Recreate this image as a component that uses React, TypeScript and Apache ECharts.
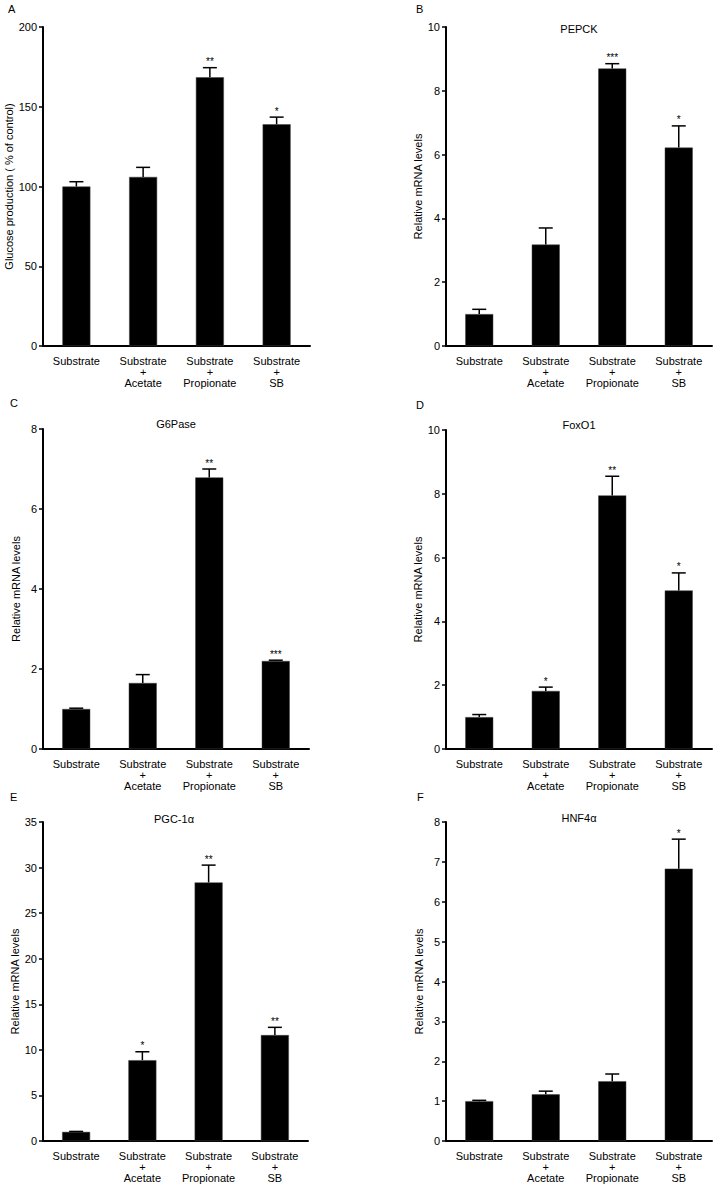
import React, { useEffect, useRef } from "react";
import * as echarts from "echarts";

const categories = ["Substrate", "Substrate\n+\nAcetate", "Substrate\n+\nPropionate", "Substrate\n+\nSB"];

const glucoseMean = [100, 106, 168.5, 139];
const glucoseErr = [3, 6, 6, 4.5];
const glucoseStars = ["", "", "**", "*"];

const pepckMean = [1.0, 3.18, 8.7, 6.22];
const pepckErr = [0.15, 0.52, 0.15, 0.68];
const pepckStars = ["", "", "***", "*"];

const g6paseMean = [1.0, 1.65, 6.79, 2.2];
const g6paseErr = [0.02, 0.21, 0.21, 0.02];
const g6paseStars = ["", "", "**", "***"];

const foxo1Mean = [1.0, 1.82, 7.95, 4.97];
const foxo1Err = [0.08, 0.12, 0.6, 0.55];
const foxo1Stars = ["", "*", "**", "*"];

const pgcMean = [1.0, 8.87, 28.37, 11.62];
const pgcErr = [0.05, 0.92, 1.9, 0.85];
const pgcStars = ["", "*", "**", "**"];

const hnfMean = [1.0, 1.17, 1.5, 6.83];
const hnfErr = [0.02, 0.08, 0.18, 0.74];
const hnfStars = ["", "", "", "*"];

const FONT = "'Liberation Sans', Arial, sans-serif";

type Panel = {
  letter: string;
  title: string;
  yName: string;
  max: number;
  interval: number;
  mean: number[];
  err: number[];
  stars: string[];
  grid: { left: number; top: number; width: number; height: number };
  nameGap: number;
  letterPos: [number, number];
  titlePos: [number, number];
};

const panels: Panel[] = [
  { letter: "A", title: "", yName: "Glucose production ( % of control)", max: 200, interval: 50, mean: glucoseMean, err: glucoseErr, stars: glucoseStars, grid: { left: 43, top: 27, width: 267, height: 319 }, nameGap: 27, letterPos: [12, 9], titlePos: [0, 0] },
  { letter: "B", title: "PEPCK", yName: "Relative mRNA levels", max: 10, interval: 2, mean: pepckMean, err: pepckErr, stars: pepckStars, grid: { left: 446, top: 27, width: 266, height: 319 }, nameGap: 22, letterPos: [420, 9], titlePos: [579, 29] },
  { letter: "C", title: "G6Pase", yName: "Relative mRNA levels", max: 8, interval: 2, mean: g6paseMean, err: g6paseErr, stars: g6paseStars, grid: { left: 43, top: 429, width: 266, height: 320 }, nameGap: 22, letterPos: [14, 403], titlePos: [176, 424] },
  { letter: "D", title: "FoxO1", yName: "Relative mRNA levels", max: 10, interval: 2, mean: foxo1Mean, err: foxo1Err, stars: foxo1Stars, grid: { left: 446, top: 430, width: 266, height: 319 }, nameGap: 22, letterPos: [420, 405], titlePos: [579, 425] },
  { letter: "E", title: "PGC-1α", yName: "Relative mRNA levels", max: 35, interval: 5, mean: pgcMean, err: pgcErr, stars: pgcStars, grid: { left: 43, top: 822, width: 265, height: 319 }, nameGap: 22, letterPos: [14, 797], titlePos: [174, 819] },
  { letter: "F", title: "HNF4α", yName: "Relative mRNA levels", max: 8, interval: 1, mean: hnfMean, err: hnfErr, stars: hnfStars, grid: { left: 446, top: 822, width: 266, height: 319 }, nameGap: 22, letterPos: [421, 797], titlePos: [579, 818] },
];

export default function App() {
  const ref = useRef<HTMLDivElement>(null);
  useEffect(() => {
    if (!ref.current) return;
    const chart = echarts.init(ref.current, null, { renderer: "svg" });
    const grid: any[] = [];
    const xAxis: any[] = [];
    const yAxis: any[] = [];
    const series: any[] = [];
    const graphic: any[] = [];
    panels.forEach((p, i) => {
      grid.push({ ...p.grid });
      xAxis.push({
        type: "category",
        gridIndex: i,
        data: categories,
        boundaryGap: true,
        axisLine: { lineStyle: { color: "#000", width: 2 } },
        axisTick: { alignWithLabel: true, length: 5, lineStyle: { color: "#000", width: 1.5 } },
        axisLabel: { interval: 0, color: "#000", fontSize: 11, lineHeight: 11, margin: 9, fontFamily: FONT },
      });
      yAxis.push({
        type: "value",
        gridIndex: i,
        min: 0,
        max: p.max,
        interval: p.interval,
        name: p.yName,
        nameLocation: "middle",
        nameGap: p.nameGap,
        nameTextStyle: { color: "#000", fontSize: 11, fontFamily: FONT },
        splitLine: { show: false },
        axisLine: { show: true, lineStyle: { color: "#000", width: 2 } },
        axisTick: { show: true, length: 4, lineStyle: { color: "#000", width: 1.5 } },
        axisLabel: { color: "#000", fontSize: 11, margin: 6, fontFamily: FONT },
      });
      series.push({
        type: "bar",
        xAxisIndex: i,
        yAxisIndex: i,
        data: p.mean,
        barWidth: 28,
        itemStyle: { color: "#000", borderColor: "#444", borderWidth: 0.5 },
        z: 2,
      });
      const stars = p.stars;
      series.push({
        type: "custom",
        xAxisIndex: i,
        yAxisIndex: i,
        clip: false,
        z: 3,
        itemStyle: { color: "#000" },
        data: p.mean.map((m, k) => [k, m + p.err[k], m]),
        encode: { x: 0, y: [1, 2] },
        renderItem: (params: any, api: any) => {
          const idx = params.dataIndex;
          const top = api.coord([api.value(0), api.value(1)]);
          const base = api.coord([api.value(0), api.value(2)]);
          const children: any[] = [
            { type: "line", shape: { x1: top[0], y1: base[1], x2: top[0], y2: top[1] }, style: { stroke: "#000", lineWidth: 1.5 } },
            { type: "line", shape: { x1: top[0] - 7, y1: top[1], x2: top[0] + 7, y2: top[1] }, style: { stroke: "#000", lineWidth: 1.5 } },
          ];
          if (stars[idx]) {
            children.push({
              type: "text",
              x: top[0],
              y: top[1] - 1,
              style: { text: stars[idx], textAlign: "center", textVerticalAlign: "bottom", fontSize: 10, fontFamily: FONT, fill: "#000", stroke: "none" },
            });
          }
          return { type: "group", children };
        },
      });
      graphic.push({
        type: "text",
        left: p.letterPos[0] - 4,
        top: p.letterPos[1] - 6,
        style: { text: p.letter, fontSize: 11, fontFamily: FONT, fill: "#000" },
      });
      if (p.title) {
        graphic.push({
          type: "text",
          x: p.titlePos[0],
          y: p.titlePos[1],
          style: { text: p.title, fontSize: 11, fontFamily: FONT, fill: "#000", textAlign: "center", textVerticalAlign: "middle" },
        });
      }
    });
    chart.setOption({
      animation: false,
      backgroundColor: "#fff",
      color: ["#000"],
      grid,
      xAxis,
      yAxis,
      series,
      graphic,
    });
    return () => chart.dispose();
  }, []);
  return (
    <div
      ref={ref}
      style={{ position: "absolute", left: 0, top: 0, width: 718, height: 1187, background: "#fff" }}
    />
  );
}
